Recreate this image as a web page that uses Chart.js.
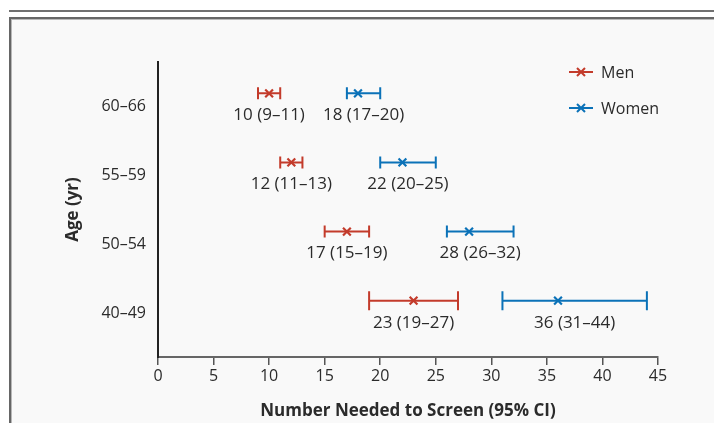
<!DOCTYPE html>
<html><head><meta charset="utf-8">
<script src="https://cdn.jsdelivr.net/npm/chart.js@4"></script>
<style>
html,body{margin:0;padding:0;background:#fff;width:714px;height:423px;overflow:hidden;}
#topline{position:absolute;left:9px;top:10px;width:705px;height:2px;background:#707070;}
#frame{position:absolute;left:9px;top:17px;width:720px;height:420px;border-left:2px solid #666;border-top:2px solid #666;background:#f9f9f9;box-shadow:inset 1px 1px 0 #b8b8b8;}
canvas{position:absolute;left:0;top:0;}
</style></head><body>
<div id="topline"></div><div id="frame"></div>
<canvas id="c" width="714" height="423"></canvas>
<script>
// ---- data ----
const ageGroups = ['60–66', '55–59', '50–54', '40–49'];
const menEstimate = [10, 12, 17, 23];
const menLower = [9, 11, 15, 19];
const menUpper = [11, 13, 19, 27];
const womenEstimate = [18, 22, 28, 36];
const womenLower = [17, 20, 26, 31];
const womenUpper = [20, 25, 32, 44];
const xTickValues = [0, 5, 10, 15, 20, 25, 30, 35, 40, 45];
const seriesNames = ['Men', 'Women'];
const xAxisTitle = 'Number Needed to Screen (95% CI)';
const yAxisTitle = 'Age (yr)';

// ---- styles ----
const RED = '#c33b2b';
const BLUE = '#0b72b8';
const TEXT = '#2b2b2b';
const FONT = '"Open Sans", sans-serif';
const capHalfHeights = [6, 6, 6, 9.5];

const rowValue = i => ageGroups.length - 1 - i;

function makeSeries(name, est, lo, hi, color) {
  return {
    label: name,
    data: est.map((v, i) => ({ x: v, y: rowValue(i) })),
    lower: lo, upper: hi,
    borderColor: color, backgroundColor: color,
    pointStyle: 'crossRot', pointRadius: 5.5, pointBorderWidth: 2.2,
    pointHoverRadius: 5.5, showLine: false
  };
}

const errorBarPlugin = {
  id: 'errorBars',
  beforeDatasetsDraw(chart) {
    const ctx = chart.ctx, xs = chart.scales.x, ys = chart.scales.y;
    chart.data.datasets.forEach(ds => {
      ctx.save();
      ctx.strokeStyle = ds.borderColor; ctx.lineWidth = 2;
      ds.data.forEach((p, i) => {
        const y = ys.getPixelForValue(p.y);
        const x0 = xs.getPixelForValue(ds.lower[i]);
        const x1 = xs.getPixelForValue(ds.upper[i]);
        const h = capHalfHeights[i];
        ctx.beginPath();
        ctx.moveTo(x0, y); ctx.lineTo(x1, y);
        ctx.moveTo(x0, y - h); ctx.lineTo(x0, y + h);
        ctx.moveTo(x1, y - h); ctx.lineTo(x1, y + h);
        ctx.stroke();
      });
      ctx.restore();
    });
  },
  afterDatasetsDraw(chart) {
    const ctx = chart.ctx, xs = chart.scales.x, ys = chart.scales.y;
    ctx.save();
    ctx.fillStyle = TEXT; ctx.font = '17px ' + FONT;
    ctx.textAlign = 'center'; ctx.textBaseline = 'middle';
    chart.data.datasets.forEach(ds => {
      ds.data.forEach((p, i) => {
        const y = ys.getPixelForValue(p.y);
        const xm = xs.getPixelForValue((ds.lower[i] + ds.upper[i]) / 2);
        ctx.fillText(p.x + ' (' + ds.lower[i] + '–' + ds.upper[i] + ')', xm, y + 22);
      });
    });
    ctx.restore();
  },
  afterDraw(chart) {
    const ctx = chart.ctx, ca = chart.chartArea;
    ctx.save();
    ctx.fillStyle = TEXT;
    ctx.font = 'bold 17px ' + FONT;
    ctx.textAlign = 'center'; ctx.textBaseline = 'middle';
    ctx.fillText(xAxisTitle, (ca.left + ca.right) / 2, 411);
    ctx.translate(73, (ca.top + ca.bottom) / 2);
    ctx.rotate(-Math.PI / 2);
    ctx.fillText(yAxisTitle, 0, 0);
    ctx.restore();
    // legend
    ctx.save();
    ctx.font = '16px ' + FONT; ctx.textBaseline = 'middle'; ctx.textAlign = 'left';
    chart.data.datasets.forEach((ds, k) => {
      const y = 72 + k * 36;
      ctx.strokeStyle = ds.borderColor; ctx.lineWidth = 2;
      ctx.beginPath(); ctx.moveTo(569, y); ctx.lineTo(593, y);
      ctx.moveTo(577, y - 4); ctx.lineTo(585, y + 4);
      ctx.moveTo(577, y + 4); ctx.lineTo(585, y - 4);
      ctx.stroke();
      ctx.fillStyle = TEXT;
      ctx.fillText(ds.label, 601, y + 1);
    });
    ctx.restore();
  }
};

new Chart(document.getElementById('c'), {
  type: 'scatter',
  data: {
    datasets: [
      makeSeries(seriesNames[0], menEstimate, menLower, menUpper, RED),
      makeSeries(seriesNames[1], womenEstimate, womenLower, womenUpper, BLUE)
    ]
  },
  options: {
    responsive: false, animation: false, devicePixelRatio: 1,
    layout: { padding: { left: 0, right: 56, top: 62, bottom: 0 } },
    plugins: { legend: { display: false }, tooltip: { enabled: false } },
    scales: {
      x: {
        type: 'linear', min: 0, max: 45,
        afterBuildTicks: s => { s.ticks = xTickValues.map(v => ({ value: v })); },
        afterFit: s => { s.height = 66; },
        grid: { display: true, drawOnChartArea: false, drawTicks: true, tickLength: 8, color: '#555', lineWidth: 1.5 },
        border: { display: true, color: '#666', width: 2 },
        ticks: { color: TEXT, font: { family: FONT, size: 16 }, padding: 2, maxRotation: 0 }
      },
      y: {
        type: 'linear', min: -0.815, max: 3.453,
        afterBuildTicks: s => { s.ticks = ageGroups.map((g, i) => ({ value: rowValue(i) })); },
        afterFit: s => { s.width = 158; },
        grid: { display: false, drawTicks: false },
        border: { display: true, color: '#222', width: 2 },
        ticks: {
          color: TEXT, font: { family: FONT, size: 16 }, padding: 12, labelOffset: 13,
          callback: v => ageGroups[ageGroups.length - 1 - v]
        }
      }
    }
  },
  plugins: [errorBarPlugin]
});
</script>
</body></html>
